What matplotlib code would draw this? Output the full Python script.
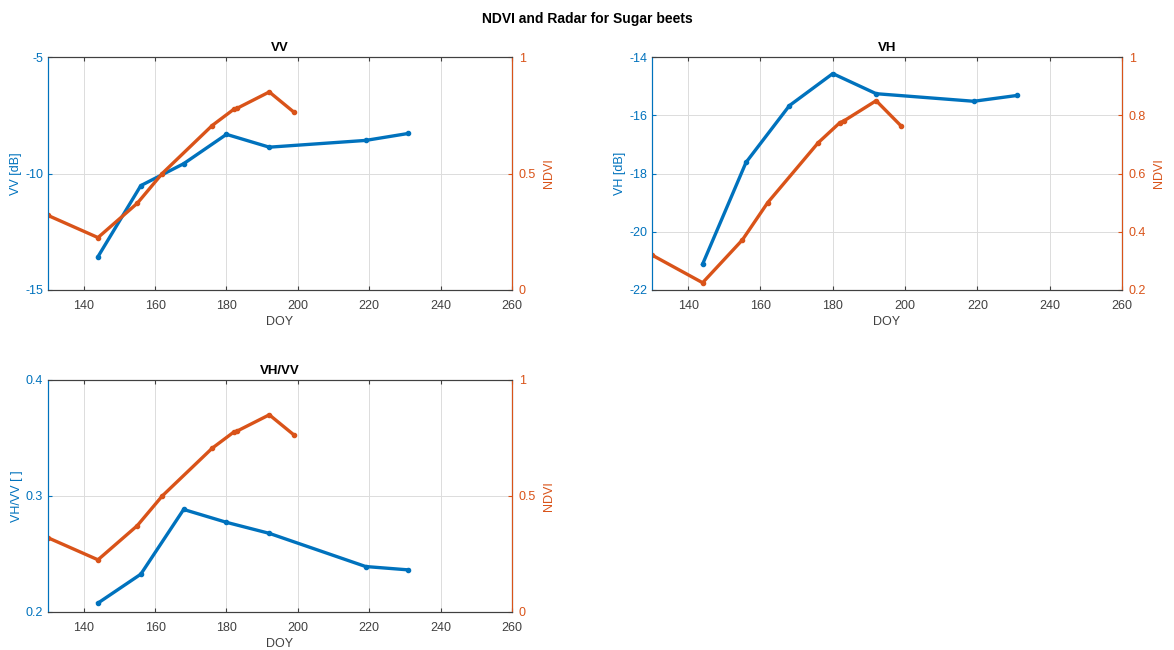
import numpy as np
import matplotlib
matplotlib.use("Agg")
import matplotlib.pyplot as plt

# NDVI observations (shared by all panels)
ndvi_doy = [130, 144, 155, 162, 176, 182, 183, 192, 199]
ndvi = [0.32, 0.225, 0.372, 0.50, 0.706, 0.775, 0.78, 0.85, 0.762]

# radar observations
radar_doy = [144, 156, 168, 180, 192, 219, 231]
vv = [-13.57, -10.52, -9.58, -8.32, -8.87, -8.58, -8.28]
vh = [-21.11, -17.62, -15.67, -14.57, -15.26, -15.52, -15.32]
vhvv = [0.2077, 0.2326, 0.2884, 0.2773, 0.2678, 0.2392, 0.2363]

BLUE = '#0072BD'
ORANGE = '#D95319'
AXC = '#404040'

x_ticks = [140, 160, 180, 200, 220, 240, 260]

plt.rcParams['font.family'] = ['Liberation Sans', 'DejaVu Sans']
plt.rcParams['font.size'] = 9


def panel(rect, title, y, ylabel, ylim, yticks, yticklabels, rlim, rticks, rticklabels):
  ax = fig.add_axes(rect)
  ax.plot(radar_doy, y, color=BLUE, lw=2.4, marker='.', ms=6, zorder=3)
  ax.set_xlim(130, 260)
  ax.set_xticks(x_ticks)
  ax.set_ylim(*ylim)
  ax.set_yticks(yticks)
  ax.set_yticklabels(yticklabels)
  ax.grid(True, color='#dcdcdc', lw=0.7)
  ax.set_axisbelow(True)
  ax.set_xlabel('DOY', color=AXC, labelpad=3)
  ax.set_ylabel(ylabel, color=BLUE, labelpad=2)
  ax.set_title(title, fontweight='bold', fontsize=9.5, pad=4)
  ax.tick_params(axis='y', colors=BLUE, direction='in', length=3)
  ax.tick_params(axis='x', colors=AXC, direction='in', length=3, top=True, pad=7)
  ax.spines['left'].set_color(BLUE)
  ax.spines['top'].set_color(AXC)
  ax.spines['bottom'].set_color(AXC)

  rx = ax.twinx()
  rx.plot(ndvi_doy, ndvi, color=ORANGE, lw=2.4, marker='.', ms=6)
  rx.set_ylim(*rlim)
  rx.set_yticks(rticks)
  rx.set_yticklabels(rticklabels)
  rx.set_ylabel('NDVI', color=ORANGE, labelpad=5)
  rx.tick_params(axis='y', colors=ORANGE, direction='in', length=3, pad=5)
  rx.spines['right'].set_color(ORANGE)
  rx.spines['left'].set_color(BLUE)
  rx.spines['top'].set_color(AXC)
  rx.spines['bottom'].set_color(AXC)
  return ax


fig = plt.figure(figsize=(11.74, 6.5), dpi=100)
fig.suptitle('NDVI and Radar for Sugar beets', fontweight='bold', fontsize=10, y=0.982)

W, H = 1174.0, 650.0

panel([48 / W, 1 - 290 / H, 464 / W, 233 / H], 'VV', vv, 'VV [dB]',
      (-15, -5), [-15, -10, -5], ['-15', '-10', '-5'],
      (0, 1), [0, 0.5, 1], ['0', '0.5', '1'])

panel([652 / W, 1 - 290 / H, 470 / W, 233 / H], 'VH', vh, 'VH [dB]',
      (-22, -14), [-22, -20, -18, -16, -14], ['-22', '-20', '-18', '-16', '-14'],
      (0.2, 1), [0.2, 0.4, 0.6, 0.8, 1], ['0.2', '0.4', '0.6', '0.8', '1'])

panel([48 / W, 1 - 612 / H, 464 / W, 232 / H], 'VH/VV', vhvv, 'VH/VV [ ]',
      (0.2, 0.4), [0.2, 0.3, 0.4], ['0.2', '0.3', '0.4'],
      (0, 1), [0, 0.5, 1], ['0', '0.5', '1'])

fig.savefig('out.png', dpi=100)
